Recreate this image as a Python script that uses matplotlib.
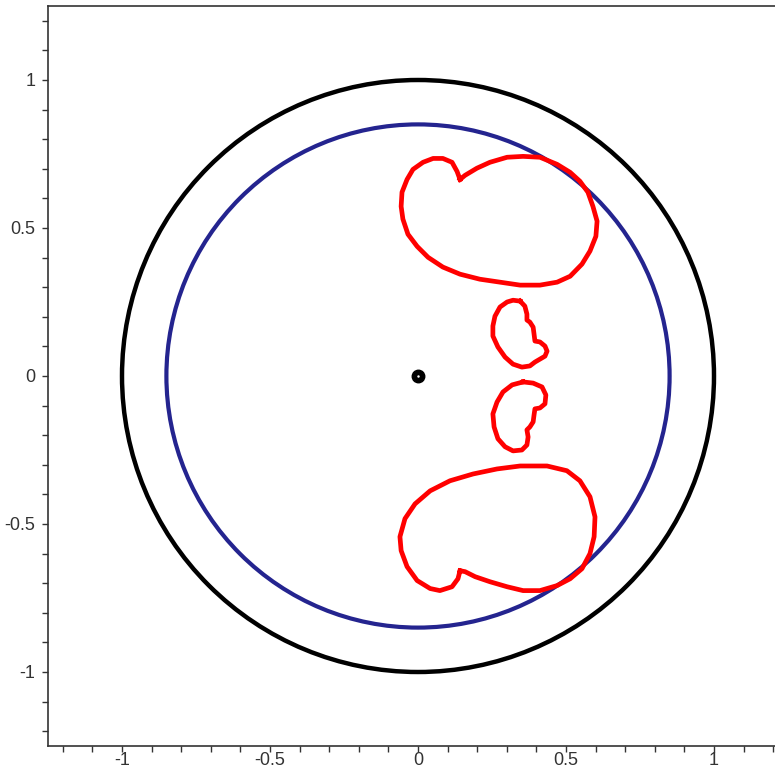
import matplotlib
matplotlib.use("Agg")
import matplotlib.pyplot as plt
from matplotlib.patches import Circle
from matplotlib.ticker import MultipleLocator

plt.rcParams['font.family'] = ['Liberation Sans', 'DejaVu Sans']
plt.rcParams['axes.unicode_minus'] = False

# circles (radius)
outer_r = 1.0
inner_r = 0.85

# red closed curves
big_up_x = [0.142, 0.132, 0.115, 0.084, 0.051, 0.017, -0.017, -0.037, -0.054, -0.057,
            -0.051, -0.034, -0.003, 0.034, 0.084, 0.142, 0.209, 0.277, 0.345, 0.412,
            0.470, 0.514, 0.554, 0.581, 0.601, 0.605, 0.591, 0.574, 0.547, 0.514,
            0.470, 0.412, 0.355, 0.301, 0.243, 0.199, 0.159, 0.142]
big_up_y = [0.664, 0.691, 0.722, 0.735, 0.735, 0.722, 0.698, 0.664, 0.621, 0.573,
            0.530, 0.479, 0.438, 0.401, 0.368, 0.344, 0.327, 0.317, 0.307, 0.307,
            0.317, 0.337, 0.378, 0.422, 0.472, 0.523, 0.573, 0.621, 0.658, 0.688,
            0.715, 0.739, 0.742, 0.739, 0.722, 0.702, 0.678, 0.664]

big_lo_x = [0.142, 0.135, 0.115, 0.074, 0.041, -0.003, -0.037, -0.057, -0.061, -0.044,
            -0.010, 0.041, 0.108, 0.186, 0.267, 0.345, 0.436, 0.503, 0.547, 0.581,
            0.598, 0.595, 0.581, 0.554, 0.514, 0.470, 0.412, 0.355, 0.301, 0.243,
            0.193, 0.159, 0.142]
big_lo_y = [-0.658, -0.685, -0.712, -0.725, -0.718, -0.691, -0.644, -0.590, -0.543, -0.482,
            -0.432, -0.388, -0.354, -0.331, -0.314, -0.304, -0.304, -0.320, -0.354, -0.408,
            -0.476, -0.543, -0.600, -0.651, -0.685, -0.708, -0.725, -0.725, -0.712, -0.695,
            -0.678, -0.661, -0.658]

small_up_x = [0.345, 0.361, 0.368, 0.368, 0.378, 0.389, 0.392, 0.395, 0.412, 0.429,
              0.436, 0.429, 0.412, 0.395, 0.378, 0.351, 0.321, 0.294, 0.270, 0.253,
              0.253, 0.260, 0.277, 0.301, 0.321, 0.345]
small_up_y = [0.253, 0.236, 0.209, 0.189, 0.182, 0.165, 0.142, 0.118, 0.115, 0.101,
              0.084, 0.067, 0.057, 0.047, 0.034, 0.030, 0.040, 0.064, 0.098, 0.135,
              0.169, 0.202, 0.233, 0.250, 0.256, 0.253]

small_lo_x = [0.355, 0.389, 0.419, 0.432, 0.429, 0.412, 0.395, 0.392, 0.389, 0.378,
              0.368, 0.372, 0.368, 0.351, 0.321, 0.294, 0.270, 0.257, 0.253, 0.267,
              0.287, 0.318, 0.355]
small_lo_y = [-0.020, -0.024, -0.037, -0.064, -0.094, -0.108, -0.111, -0.132, -0.155, -0.172,
              -0.182, -0.206, -0.233, -0.250, -0.253, -0.239, -0.212, -0.172, -0.128, -0.088,
              -0.054, -0.030, -0.020]

major_ticks = [-1, -0.5, 0, 0.5, 1]
tick_labels = ['-1', '-0.5', '0', '0.5', '1']

fig = plt.figure(figsize=(7.75, 7.69), dpi=100)
ax = fig.add_axes([48 / 775, 23 / 769, 740 / 775, 740 / 769])

red = '#ff0000'
for xs, ys in [(big_up_x, big_up_y), (big_lo_x, big_lo_y),
               (small_up_x, small_up_y), (small_lo_x, small_lo_y)]:
    ax.plot(xs, ys, color=red, lw=3.4, solid_joinstyle='round')

ax.add_patch(Circle((0, 0), inner_r, fill=False, ec='#24248f', lw=3))
ax.add_patch(Circle((0, 0), outer_r, fill=False, ec='black', lw=3.2))
ax.plot([0], [0], marker='o', ms=9, color='black', mec='black')
ax.plot([0], [0], marker='.', ms=1.5, color='white', ls='none')

ax.set_xlim(-1.25, 1.25)
ax.set_ylim(-1.25, 1.25)
ax.set_aspect('auto')

ax.set_xticks(major_ticks)
ax.set_xticklabels(tick_labels)
ax.set_yticks(major_ticks)
ax.set_yticklabels(tick_labels)
ax.xaxis.set_minor_locator(MultipleLocator(0.1))
ax.yaxis.set_minor_locator(MultipleLocator(0.1))
ax.tick_params(which='both', direction='out', length=4, width=1, color='#333333')
ax.tick_params(labelsize=13, labelcolor='#333333')
ax.tick_params(axis='x', pad=0.5)
ax.tick_params(axis='y', pad=5)

for s in ax.spines.values():
    s.set_color('#333333')
    s.set_linewidth(1.2)

fig.savefig('out.png', dpi=100)
